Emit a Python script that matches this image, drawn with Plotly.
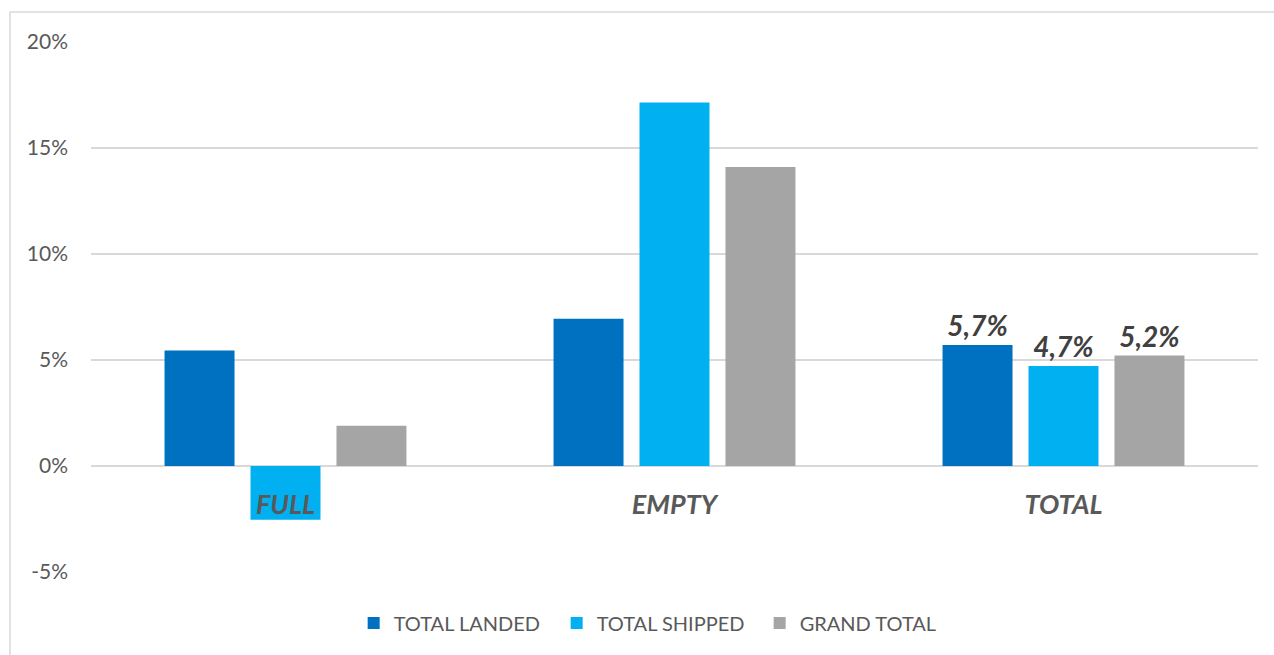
import plotly.graph_objects as go

categories = ["FULL", "EMPTY", "TOTAL"]
series_names = ["TOTAL LANDED", "TOTAL SHIPPED", "GRAND TOTAL"]
landed = [5.45, 6.95, 5.71]
shipped = [-2.54, 17.15, 4.72]
grand = [1.9, 14.1, 5.21]
colors = ["#0070C0", "#00B0F0", "#A5A5A5"]
labelled = [False, False, True]
y_ticks = [-5, 0, 5, 10, 15, 20]

W, H = 1274, 655
ML, MR, MT, MB = 91, 16, 42, 83
TXT = "#595959"
GRID = "#D9D9D9"
FONT = "Lato, 'Open Sans', sans-serif"

fig = go.Figure()
for name, vals, col in zip(series_names, [landed, shipped, grand], colors):
    texts = [f"{v:.1f}%".replace(".", ",") if lab else "" for v, lab in zip(vals, labelled)]
    fig.add_trace(go.Bar(
        x=categories, y=vals, name=name, marker=dict(color=col, line=dict(width=0)),
        text=texts, textposition="outside", cliponaxis=False,
        textfont=dict(family=FONT, size=28, color="#404040", weight="bold", style="italic"),
        hoverinfo="skip",
    ))

ymin, ymax = y_ticks[0], y_ticks[-1]
fig.update_layout(
    width=W, height=H,
    margin=dict(l=ML, r=MR, t=MT, b=MB),
    paper_bgcolor="white", plot_bgcolor="white",
    barmode="group", bargap=0.337, bargroupgap=0.186,
    font=dict(family=FONT, color=TXT),
    showlegend=True,
    legend=dict(orientation="h", x=0.486, xanchor="center", y=-0.096, yanchor="middle",
                font=dict(size=20, color=TXT), itemwidth=30, traceorder="normal",
                entrywidth=158, entrywidthmode="pixels"),
    xaxis=dict(anchor="free", position=(0 - ymin) / (ymax - ymin), showline=False,
               ticks="", showgrid=False, ticklabelstandoff=20,
               tickfont=dict(size=27, color=TXT, weight="bold", style="italic")),
    yaxis=dict(range=[ymin, ymax], tickvals=y_ticks,
               ticktext=[f"{t}%" for t in y_ticks], showgrid=True, gridcolor=GRID,
               gridwidth=1.5, zeroline=True, zerolinecolor=GRID, zerolinewidth=1.5,
               showline=False, ticks="", ticklabelstandoff=22,
               tickfont=dict(size=21, color=TXT)),
    shapes=[dict(type="rect", xref="paper", yref="paper",
                 x0=(10 - ML) / (W - ML - MR), x1=(W + 20 - ML) / (W - ML - MR),
                 y0=-(MB + 20) / (H - MT - MB), y1=1 + (MT - 12) / (H - MT - MB),
                 line=dict(color=GRID, width=1.5), layer="below")],
)
fig.write_html("out.html")
